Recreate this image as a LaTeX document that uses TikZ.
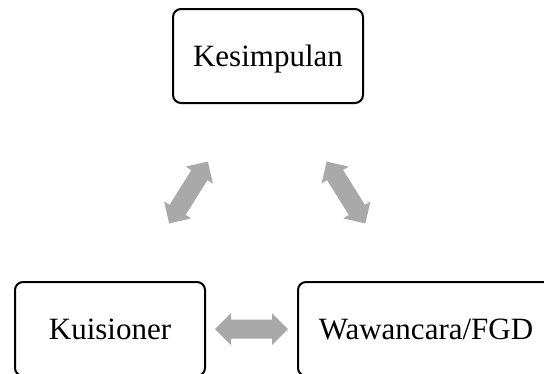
\documentclass[tikz,border=0pt]{standalone}
\usepackage{fontspec}
\setmainfont{Liberation Serif}
\definecolor{arrowgray}{RGB}{169,169,169}
\tikzset{
  box/.style={draw=black, line width=2pt, rounded corners=8pt, fill=white,
    minimum width=190pt, minimum height=94pt, inner sep=0pt,
    text height=20pt, text depth=0pt, font=\fontsize{31}{36}\selectfont},
  dblarrow/.pic={
    \fill[arrowgray] (-36.5,0) -- (-20.5,16) -- (-20.5,9.5) -- (20.5,9.5) -- (20.5,16)
      -- (36.5,0) -- (20.5,-16) -- (20.5,-9.5) -- (-20.5,-9.5) -- (-20.5,-16) -- cycle;
  }
}
\begin{document}
\begin{tikzpicture}[x=1pt,y=-1pt]
\fill[white] (0,0) rectangle (544,373);
\useasboundingbox (0,0) rectangle (544,373);
\node[box] (kes) at (268,56) {Kesimpulan};
\node[box] (kui) at (110,329) {Kuisioner};
\node[box, minimum width=256pt] (waw) at (426,329) {Wawancara/FGD};
\pic[rotate=58] (a1) at (188.5,192.5) {dblarrow};
\pic[rotate=-58] (a2) at (346,192.5) {dblarrow};
\pic (a3) at (251.5,329) {dblarrow};
\end{tikzpicture}
\end{document}
